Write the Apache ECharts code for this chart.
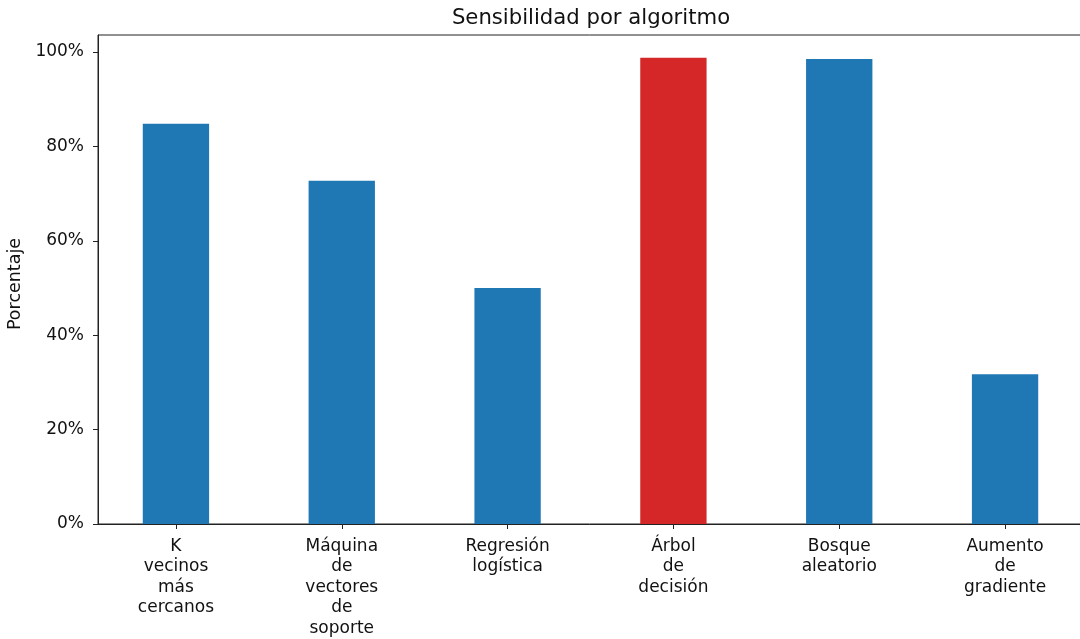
<!DOCTYPE html>
<html>
<head>
<meta charset="utf-8">
<script src="https://cdn.jsdelivr.net/npm/echarts@6/dist/echarts.min.js"></script>
<style>
  html, body { margin: 0; padding: 0; background: #fff; }
  #chart { width: 1080px; height: 639px; }
</style>
</head>
<body>
<div id="chart"></div>
<script>
// Sensitivity (recall) per classifier, in percent
const categories = [
  'K\nvecinos\nmás\ncercanos',
  'Máquina\nde\nvectores\nde\nsoporte',
  'Regresión\nlogística',
  'Árbol\nde\ndecisión',
  'Bosque\naleatorio',
  'Aumento\nde\ngradiente'
];
const sensitivity = [84.8, 72.7, 50.0, 98.8, 98.5, 31.7];
const yTicks = [0, 20, 40, 60, 80, 100];
const highlightIndex = 3;

const BLUE = '#1f77b4';
const RED = '#d62728';
const FONT = 'DejaVu Sans';
const TEXT = '#111';

const chart = echarts.init(document.getElementById('chart'), null, { renderer: 'canvas' });

const xPositions = categories.map((_, i) => i);

chart.setOption({
  animation: false,
  backgroundColor: '#ffffff',
  title: {
    text: 'Sensibilidad por algoritmo',
    left: 586,
    top: 3,
    textAlign: 'center',
    textStyle: { fontFamily: FONT, fontSize: 21.2, fontWeight: 'normal', color: TEXT }
  },
  grid: {
    left: 98,
    top: 35,
    width: 985,
    height: 489,
    outerBoundsMode: 'none',
    containLabel: false,
    show: true,
    borderColor: '#222',
    borderWidth: 1,
    backgroundColor: 'transparent'
  },
  xAxis: {
    type: 'value',
    min: -0.47,
    max: 5.47,
    axisLine: { show: true, onZero: false, lineStyle: { color: '#222', width: 1 } },
    axisTick: { show: true, length: 5, customValues: xPositions, lineStyle: { color: '#222' } },
    splitLine: { show: false },
    axisLabel: {
      customValues: xPositions,
      margin: 12,
      fontFamily: FONT,
      fontSize: 17,
      lineHeight: 20.5,
      color: TEXT,
      align: 'center',
      verticalAlign: 'top',
      formatter: v => categories[Math.round(v)] || ''
    }
  },
  yAxis: {
    type: 'value',
    min: 0,
    max: 103.6,
    name: 'Porcentaje',
    nameLocation: 'middle',
    nameGap: 67.5,
    nameRotate: 90,
    nameTextStyle: { fontFamily: FONT, fontSize: 17.5, color: TEXT, padding: [0, 9, 0, 0] },
    axisLine: { show: true, onZero: false, lineStyle: { color: '#222', width: 1 } },
    axisTick: { show: true, length: 5, customValues: yTicks, lineStyle: { color: '#222' } },
    splitLine: { show: false },
    axisLabel: {
      customValues: yTicks,
      margin: 14,
      fontFamily: FONT,
      fontSize: 17,
      color: TEXT,
      formatter: v => v + '%'
    }
  },
  series: [{
    type: 'bar',
    barWidth: '40%',
    data: sensitivity.map((v, i) => ({
      value: [i, v],
      itemStyle: { color: i === highlightIndex ? RED : BLUE }
    }))
  }]
});
</script>
</body>
</html>
